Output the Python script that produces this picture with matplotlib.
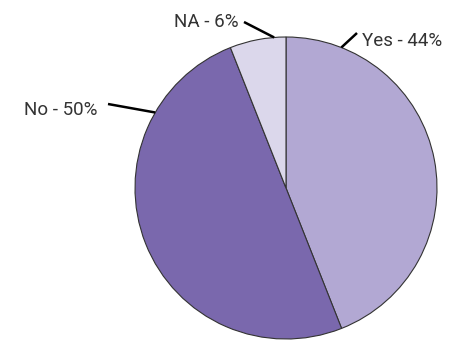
import numpy as np
import matplotlib.pyplot as plt

# Data
labels = ["Yes", "No", "NA"]
shares = [44, 50, 6]
colors = ["#b2a8d3", "#7a68ad", "#dbd7eb"]

# label placement: (angle on rim in deg, text x, text y, ha) in pixel space
label_pos = [
    (68.5, 362, 299, "left"),
    (150.0, 98, 230, "right"),
    (94.5, 239, 318, "right"),
]
line_end = [(357, 307), (108, 236), (244, 318)]

W, H = 462, 340
cx, cy, r = 286, 152, 151

fig = plt.figure(figsize=(W / 100, H / 100), dpi=100)
ax = fig.add_axes([0, 0, 1, 1])

ax.pie(shares, colors=colors, startangle=90, counterclock=False,
       center=(cx, cy), radius=r, frame=True,
       wedgeprops=dict(edgecolor="#333333", linewidth=0.8))
ax.set_xlim(0, W)
ax.set_ylim(0, H)
ax.set_aspect("equal")
ax.axis("off")

for lab, s, (ang, tx, ty, ha), (lx, ly) in zip(labels, shares, label_pos, line_end):
    a = np.radians(ang)
    px, py = cx + r * np.cos(a), cy + r * np.sin(a)
    ax.plot([px, lx], [py, ly], color="black", lw=1.8, solid_capstyle="butt")
    ax.text(tx, ty, f"{lab} - {s}%", ha=ha, va="center", fontsize=13.5,
            family="Roboto", color="#333333")

fig.savefig("out.png", dpi=100)
